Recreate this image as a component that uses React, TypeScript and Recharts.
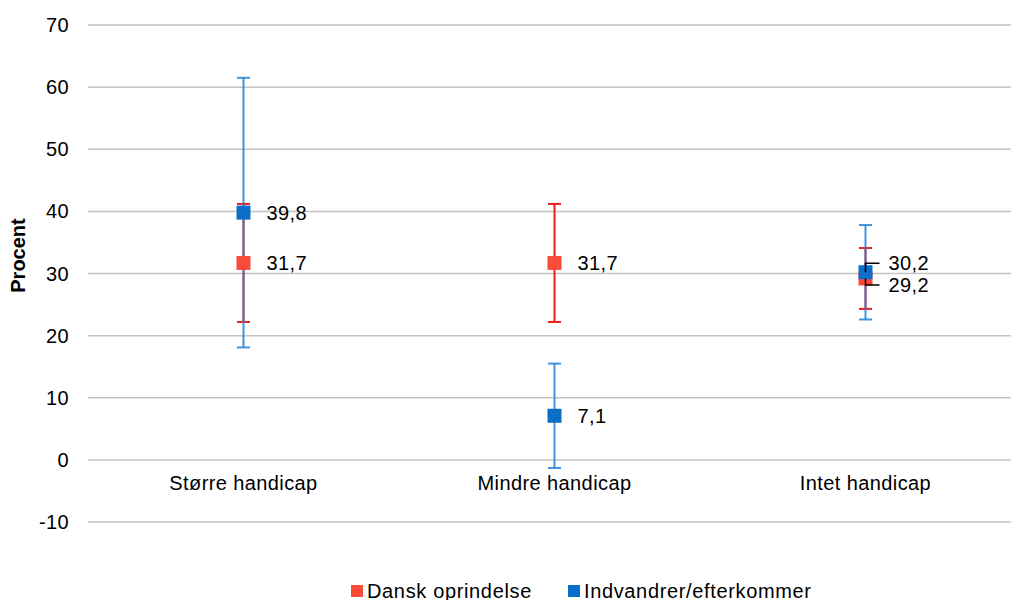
import React from "react";
import {
  ComposedChart,
  Line,
  XAxis,
  YAxis,
  CartesianGrid,
  ErrorBar,
  LabelList,
  Legend,
} from "recharts";

const categories = ["Større handicap", "Mindre handicap", "Intet handicap"];
const danskValues = [31.7, 31.7, 29.2];
const danskErrors = [9.5, 9.5, 4.9];
const indvandrerValues = [39.8, 7.1, 30.2];
const indvandrerErrors = [21.7, 8.4, 7.6];
const yTicks = [-10, 0, 10, 20, 30, 40, 50, 60, 70];

const data = categories.map((category, i) => ({
  category,
  dansk: danskValues[i],
  danskErr: danskErrors[i],
  indvandrer: indvandrerValues[i],
  indvandrerErr: indvandrerErrors[i],
}));

const FONT = "'Liberation Sans', Arial, sans-serif";
const RED_MARK = "#F94B3A";
const RED_BAR = "#F01C1C";
const BLUE_MARK = "#0B6EC8";
const BLUE_BAR = "#2381D6";

const fmt = (v: number) => v.toFixed(1).replace(".", ",");

function squareDot(color: string) {
  return (props: any) => {
    const { cx, cy, index } = props;
    if (cx == null || cy == null) return <g key={index} />;
    return <rect key={index} x={cx - 7} y={cy - 7} width={14} height={14} fill={color} />;
  };
}

// labels for the third category are pulled apart with small leader lines
function valueLabel(shift: number[]) {
  return (props: any) => {
    const { x, y, value, index } = props;
    const dy = shift[index] ?? 0;
    return (
      <g>
        {dy !== 0 && (
          <path
            d={`M${x},${y} V${y + dy} H${x + 14}`}
            stroke="#000"
            strokeWidth={1.5}
            fill="none"
          />
        )}
        <text
          x={x + 23}
          y={y + dy}
          dy="0.355em"
          fontFamily={FONT}
          fontSize={20}
          letterSpacing={0.4}
          fill="#000"
        >
          {fmt(value)}
        </text>
      </g>
    );
  };
}

const CategoryTick = (props: any) => {
  const { x, y, payload } = props;
  return (
    <text
      x={x}
      y={y - 32}
      textAnchor="middle"
      fontFamily={FONT}
      fontSize={20}
      letterSpacing={0.4}
      fill="#000"
    >
      {payload.value}
    </text>
  );
};

const YLabel = (props: any) => {
  const { viewBox } = props;
  const cx = viewBox.x + 18;
  const cy = viewBox.y + viewBox.height / 2 - 18;
  return (
    <text
      x={cx}
      y={cy}
      transform={`rotate(-90, ${cx}, ${cy})`}
      textAnchor="middle"
      dominantBaseline="central"
      fontFamily={FONT}
      fontSize={20}
      fontWeight="bold"
      fill="#000"
    >
      Procent
    </text>
  );
};

const LegendContent = (props: any) => {
  const items = (props.payload || []).filter((e: any) => e.type !== "none");
  return (
    <div
      style={{
        display: "flex",
        whiteSpace: "nowrap",
        fontFamily: FONT,
        fontSize: 20,
        letterSpacing: 0.65,
        color: "#000",
      }}
    >
      {items.map((entry: any, i: number) => (
        <div
          key={i}
          style={{ display: "flex", alignItems: "center", height: 22, marginRight: 36 }}
        >
          <span
            style={{
              display: "inline-block",
              width: 12,
              height: 12,
              background: entry.color,
              marginRight: 4,
            }}
          />
          <span>{entry.value}</span>
        </div>
      ))}
    </div>
  );
};

export default function App() {
  return (
    <div
      style={{
        position: "absolute",
        left: 0,
        top: 0,
        width: 1011,
        height: 600,
        overflow: "hidden",
        background: "#fff",
        fontFamily: FONT,
      }}
    >
      <ComposedChart
        width={1021}
        height={600}
        data={data}
        margin={{ top: 25, right: 0, bottom: 0, left: 0 }}
      >
        <CartesianGrid stroke="#C4C4C4" strokeWidth={1.5} vertical={false} />
        <XAxis
          dataKey="category"
          scale="band"
          axisLine={false}
          tickLine={false}
          tickSize={0}
          tickMargin={0}
          height={78}
          tick={<CategoryTick />}
          interval={0}
        />
        <YAxis
          type="number"
          domain={[-10, 70]}
          ticks={yTicks}
          width={88}
          axisLine={false}
          tickLine={false}
          tickSize={0}
          tickMargin={19}
          tick={{ fill: "#000", fontSize: 20, fontFamily: FONT, letterSpacing: 0.4 }}
          label={<YLabel />}
        />
        <Legend
          layout="horizontal"
          verticalAlign="middle"
          align="center"
          wrapperStyle={{ top: 580, left: 351, width: 660 }}
          content={<LegendContent />}
        />
        <Line
          dataKey="dansk"
          stroke="none"
          dot={false}
          activeDot={false}
          legendType="none"
          isAnimationActive={false}
        >
          <ErrorBar
            dataKey="danskErr"
            direction="y"
            width={6.5}
            stroke={RED_BAR}
            strokeWidth={2}
            isAnimationActive={false}
          />
        </Line>
        <Line
          dataKey="indvandrer"
          stroke="none"
          dot={false}
          activeDot={false}
          legendType="none"
          isAnimationActive={false}
        >
          <ErrorBar
            dataKey="indvandrerErr"
            direction="y"
            width={6.5}
            stroke={BLUE_BAR}
            strokeWidth={2}
            strokeOpacity={0.85}
            isAnimationActive={false}
          />
        </Line>
        <Line
          dataKey="dansk"
          name="Dansk oprindelse"
          stroke={RED_MARK}
          strokeOpacity={0}
          dot={squareDot(RED_MARK)}
          activeDot={false}
          isAnimationActive={false}
        >
          <LabelList dataKey="dansk" content={valueLabel([0, 0, 6.5])} />
        </Line>
        <Line
          dataKey="indvandrer"
          name="Indvandrer/efterkommer"
          stroke={BLUE_MARK}
          strokeOpacity={0}
          dot={squareDot(BLUE_MARK)}
          activeDot={false}
          isAnimationActive={false}
        >
          <LabelList dataKey="indvandrer" content={valueLabel([0, 0, -9])} />
        </Line>
      </ComposedChart>
    </div>
  );
}
